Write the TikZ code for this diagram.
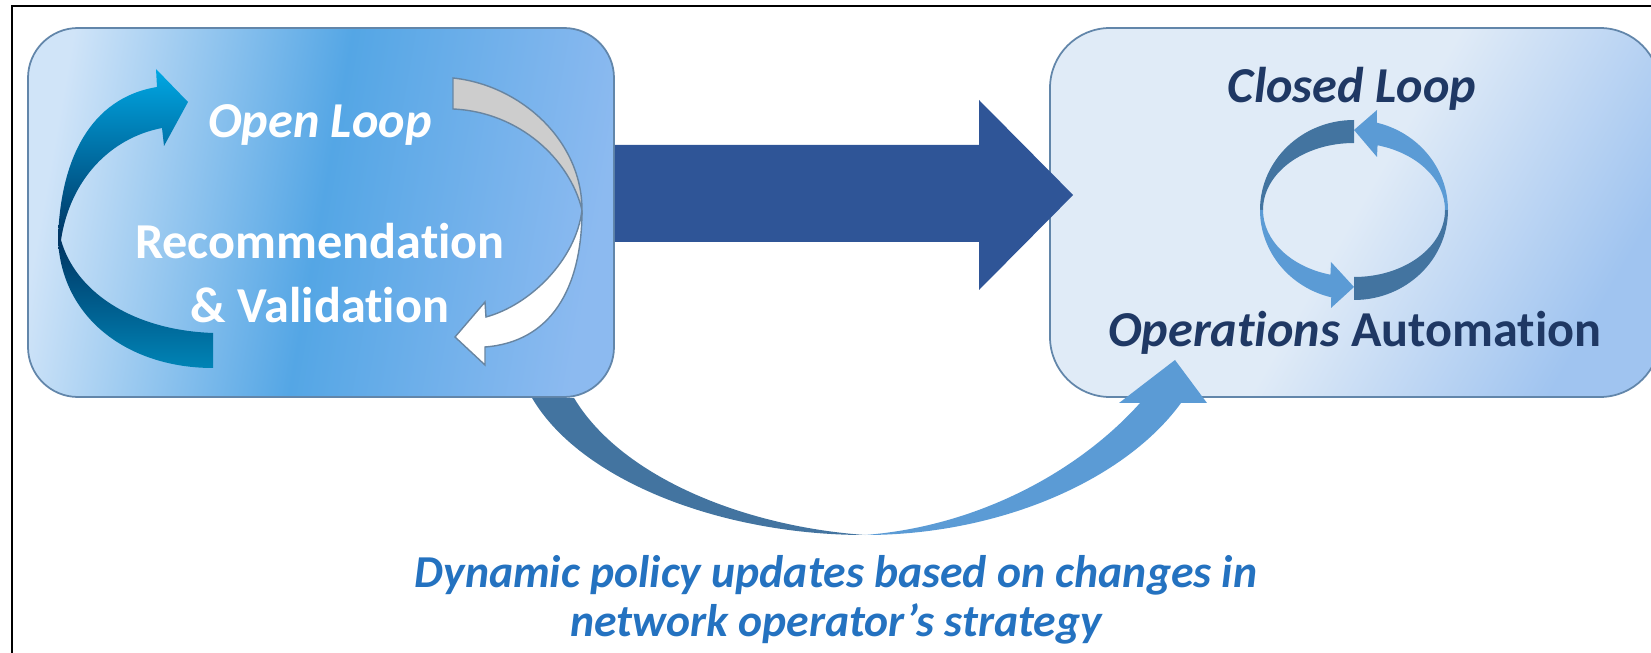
\documentclass[tikz,border=0pt]{standalone}
\usepackage{fontspec}
\setmainfont{Carlito}[Ligatures=NoCommon]
\usetikzlibrary{calc}

\definecolor{opsnavy}{RGB}{31,56,100}
\definecolor{arrowblue}{RGB}{47,85,151}
\definecolor{loopdark}{RGB}{67,116,160}
\definecolor{looplight}{RGB}{91,155,213}
\definecolor{policyblue}{RGB}{36,114,192}
\definecolor{boxline}{RGB}{98,134,170}
\definecolor{recpale}{RGB}{208,228,248}
\definecolor{recmid}{RGB}{84,166,229}
\definecolor{recend}{RGB}{140,186,240}
\definecolor{autopale}{RGB}{224,235,247}
\definecolor{autoend}{RGB}{160,196,240}
\definecolor{cyanhi}{RGB}{0,168,228}
\definecolor{cyandk}{RGB}{0,52,98}
\definecolor{tealend}{RGB}{0,132,182}
\definecolor{turngray}{RGB}{205,205,205}
\tikzset{lbox/.style={draw=boxline, line width=0.5pt, rounded corners=5mm, minimum width=58.6mm, minimum height=36.9mm,
    left color=recpale, right color=recend, middle color=recmid, shading angle=80}}
\tikzset{rbox/.style={draw=boxline, line width=0.5pt, rounded corners=6mm, minimum width=61mm, minimum height=36.9mm,
    left color=autopale, right color=autoend, middle color=autopale, shading angle=60}}
\tikzset{bigarrow/.style={fill=arrowblue}}
\tikzset{looplabel/.style={font=\fontsize{14.3}{17}\selectfont\bfseries\itshape}}
\tikzset{turnline/.style={draw=boxline!80!gray, line width=0.4pt}}

\begin{document}
\begin{tikzpicture}[x=1mm, y=-1mm]%{{{
        \useasboundingbox (0,0) rectangle (165.1,65.3);
        \clip (0,0) rectangle (165.1,65.3);
        \draw[line width=0.25mm] (1.2,65.3) |- (165.1,0.6);

        \node[rbox] (auto) at (135.5,21.25) {};
        \node[lbox] (rec) at (32.1,21.25) {};

        % open loop: blue turn on the left
        \shade[top color=cyanhi, bottom color=cyandk] (5.8,24.0) .. controls (6,16) and (9,9.8) .. (15.7,8.7)
            -- (15.6,6.9) -- (18.8,10.2) -- (16.4,14.6) -- (16.2,12.8)
            .. controls (11,13.8) and (7,18) .. (6.1,24.0) -- cycle;
        \shade[top color=cyandk, bottom color=tealend] (5.8,24.0) .. controls (6.2,32) and (13,36.8) .. (21.3,36.8)
            -- (21.3,33.3) .. controls (13,33) and (7.5,29) .. (6.1,24.0) -- cycle;
        % grey and white turn on the right
        \filldraw[turnline, fill=turngray] (45.3,7.8) .. controls (52,8.5) and (58.2,14) .. (58.2,21.0)
            .. controls (57,16) and (52,11.2) .. (45.3,10.9) -- cycle;
        \filldraw[turnline, fill=white] (58.2,21.0) .. controls (58.2,29) and (55,34.2) .. (48.5,34.7)
            -- (48.5,36.5) -- (45.5,33.7) -- (48.5,30.2) -- (48.6,31.7)
            .. controls (53,30.5) and (57.6,26) .. (58.2,21.0) -- cycle;

        % arrow between the boxes
        \fill[bigarrow] (rec.east |- 0,14.5) -- (97.9,14.5) -- (97.9,10.0) -- ($(auto.west |- 0,19.5)+(2.4,0)$)
            -- (97.9,29.0) -- (97.9,24.2) -- (rec.east |- 0,24.2) -- cycle;

        % policy update arrow
        \coordinate (policyin) at (117.5,36.0);
        \fill[loopdark] (53.2,0 |- rec.south) .. controls (58,48) and (72,53.5) .. (86.5,53.5)
            .. controls (74,52.6) and (62,47.5) .. (57.4,0 |- rec.south) -- cycle;
        \fill[looplight] (86.5,53.5) .. controls (100,53.5) and (112.5,48) .. (118.1,40.3)
            -- (120.7,40.3) -- (policyin) -- (111.9,40.3) -- (114.0,40.3)
            .. controls (108,47) and (98,52.6) .. (86.5,53.5) -- cycle;

        % closed loop
        \coordinate (cl) at (135.4,21.0);
        \fill[loopdark] ($(cl)+(90:9.4 and 9)$) arc[start angle=90, end angle=0, x radius=9.4, y radius=9]
            -- ($(cl)+(0:9.1 and 6.7)$) arc[start angle=0, end angle=90, x radius=9.1, y radius=6.7] -- cycle;
        \fill[looplight] ($(cl)+(0:9.4 and 9)$) arc[start angle=0, end angle=-76, x radius=9.4, y radius=9]
            -- (137.7,11.0) -- (135.4,13.0) -- (137.7,15.7)
            -- ($(cl)+(-75:9.1 and 6.7)$) arc[start angle=-75, end angle=0, x radius=9.1, y radius=6.7] -- cycle;
        \fill[loopdark] ($(cl)+(-90:9.4 and 9)$) arc[start angle=-90, end angle=-180, x radius=9.4, y radius=9]
            -- ($(cl)+(180:9.1 and 6.7)$) arc[start angle=180, end angle=270, x radius=9.1, y radius=6.7] -- cycle;
        \fill[looplight] ($(cl)+(180:9.4 and 9)$) arc[start angle=180, end angle=104, x radius=9.4, y radius=9]
            -- (133.1,30.8) -- (135.4,28.7) -- (133.1,26.2)
            -- ($(cl)+(105:9.1 and 6.7)$) arc[start angle=105, end angle=180, x radius=9.1, y radius=6.7] -- cycle;

        % labels
        \node[looplabel, text=white, anchor=base] (open) at (32.0,13.75) {Open Loop};
        \node[font=\fontsize{14.3}{18}\selectfont\bfseries, text=white, align=center] (recval) at (32.0,27.3)
            {Recommendation\\\& Validation};
        \node[looplabel, text=opsnavy, anchor=base] (closed) at (135.2,10.3) {Closed Loop};
        \node[font=\fontsize{14.3}{17}\selectfont\bfseries, text=opsnavy, anchor=base] (ops) at (135.5,34.7)
            {\itshape Operations\upshape{} Automation};
        \node[font=\fontsize{13}{14}\selectfont\bfseries\itshape, text=policyblue, align=center] (policy) at (83.6,60.0)
            {Dynamic policy updates based on changes in\\network operator’s strategy};
    \end{tikzpicture}
\end{document}
